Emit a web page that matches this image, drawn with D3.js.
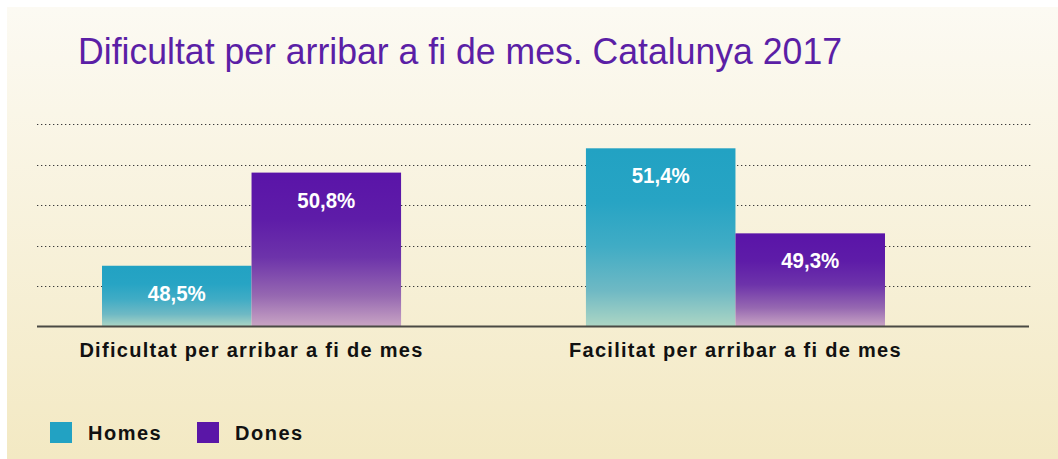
<!DOCTYPE html>
<html>
<head>
<meta charset="utf-8">
<script src="https://cdn.jsdelivr.net/npm/d3@7"></script>
<style>
  html, body { margin: 0; padding: 0; background: #ffffff; }
  svg { display: block; }
</style>
</head>
<body>
<svg id="chart" width="1058" height="459"></svg>
<script>
// ---- data ----
const title = "Dificultat per arribar a fi de mes. Catalunya 2017";
const categories = ["Dificultat per arribar a fi de mes", "Facilitat per arribar a fi de mes"];
const series = ["Homes", "Dones"];
const homes = [48.5, 51.4];
const dones = [50.8, 49.3];
const yTicks = [48, 49, 50, 51, 52];

const seriesValues = { Homes: homes, Dones: dones };
const colors = { Homes: "#22a2c3", Dones: "#5a16a7" };

const svg = d3.select("#chart");
const W = 1058, H = 459;

// ---- defs: gradients ----
const defs = svg.append("defs");
const bg = defs.append("linearGradient").attr("id", "bg").attr("x1", 0).attr("y1", 0).attr("x2", 0).attr("y2", 1);
bg.append("stop").attr("offset", "0%").attr("stop-color", "#fcfaf3");
bg.append("stop").attr("offset", "100%").attr("stop-color", "#f3e9c3");

const gradStops = {
  Homes: [["0%", "#22a2c3"], ["30%", "#27a4c4"], ["55%", "#40acc5"], ["80%", "#6fb9c4"], ["100%", "#add6c4"]],
  Dones: [["0%", "#5a14a8"], ["30%", "#5e1ca8"], ["55%", "#6d33aa"], ["80%", "#9668b1"], ["100%", "#c9a5c4"]]
};
series.forEach(s => {
  const g = defs.append("linearGradient").attr("id", "grad-" + s)
    .attr("x1", 0).attr("y1", 0).attr("x2", 0).attr("y2", 1);
  gradStops[s].forEach(([o, c]) => g.append("stop").attr("offset", o).attr("stop-color", c));
});

// ---- background panel ----
svg.append("rect").attr("x", 7).attr("y", 7).attr("width", W - 7).attr("height", H - 7).attr("fill", "url(#bg)");

// ---- title ----
svg.append("text")
  .attr("x", 78).attr("y", 64)
  .attr("font-family", "'Liberation Sans Narrow', 'Arial Narrow', 'Liberation Sans', Arial, sans-serif")
  .attr("font-size", 36)
  .attr("fill", "#5b1fa6")
  .attr("textLength", 764).attr("lengthAdjust", "spacingAndGlyphs")
  .text(title);

// ---- scales ----
const x0 = d3.scaleBand().domain(categories).range([102, 885]).paddingInner(0.382).paddingOuter(0);
const x1 = d3.scaleBand().domain(series).range([0, x0.bandwidth()]).padding(0);
const y = d3.scaleLinear().domain([47, 52]).range([326.5, 124]);

// ---- gridlines ----
svg.append("g").selectAll("line").data(yTicks).join("line")
  .attr("x1", 37).attr("x2", 1032)
  .attr("y1", d => Math.round(y(d)) + 0.5).attr("y2", d => Math.round(y(d)) + 0.5)
  .attr("stroke", "#3a3a3a").attr("stroke-width", 1.2)
  .attr("stroke-dasharray", "1.3,2.7");

// ---- bars ----
const groups = svg.append("g").selectAll("g").data(categories).join("g")
  .attr("transform", d => `translate(${x0(d)},0)`);

const barData = (c, i) => series.map(s => ({ s, v: seriesValues[s][i] }));

groups.selectAll("rect").data(barData).join("rect")
  .attr("x", d => x1(d.s))
  .attr("y", d => y(d.v))
  .attr("width", x1.bandwidth())
  .attr("height", d => y.range()[0] - y(d.v))
  .attr("fill", d => "url(#grad-" + d.s + ")");

groups.selectAll("text.val").data(barData).join("text")
  .attr("class", "val")
  .attr("x", d => x1(d.s) + x1.bandwidth() / 2)
  .attr("y", d => y(d.v) + 35)
  .attr("text-anchor", "middle")
  .attr("font-family", "'Liberation Sans Narrow', 'Arial Narrow', 'Liberation Sans', Arial, sans-serif")
  .attr("font-weight", "bold")
  .attr("font-size", 22)
  .attr("fill", "#ffffff")
  .attr("textLength", 58).attr("lengthAdjust", "spacingAndGlyphs")
  .text(d => d.v.toFixed(1).replace(".", ",") + "%");

// ---- baseline ----
svg.append("line")
  .attr("x1", 37).attr("x2", 1029)
  .attr("y1", y.range()[0]).attr("y2", y.range()[0])
  .attr("stroke", "#4a4a44").attr("stroke-width", 2);

// ---- category labels ----
svg.append("g").selectAll("text").data(categories).join("text")
  .attr("x", d => x0(d) + x0.bandwidth() / 2)
  .attr("y", 357)
  .attr("text-anchor", "middle")
  .attr("font-family", "'Liberation Sans', Arial, sans-serif")
  .attr("font-weight", "bold")
  .attr("font-size", 20)
  .attr("letter-spacing", 1.3)
  .attr("fill", "#111111")
  .text(d => d);

// ---- legend ----
const legendX = [50, 197];
const leg = svg.append("g").selectAll("g").data(series).join("g")
  .attr("transform", (d, i) => `translate(${legendX[i]},422)`);
leg.append("rect").attr("width", 22).attr("height", 21).attr("fill", d => colors[d]);
leg.append("text")
  .attr("x", 38).attr("y", 18)
  .attr("font-family", "'Liberation Sans', Arial, sans-serif")
  .attr("font-weight", "bold")
  .attr("font-size", 20)
  .attr("letter-spacing", 1.5)
  .attr("fill", "#111111")
  .text(d => d);
</script>
</body>
</html>
